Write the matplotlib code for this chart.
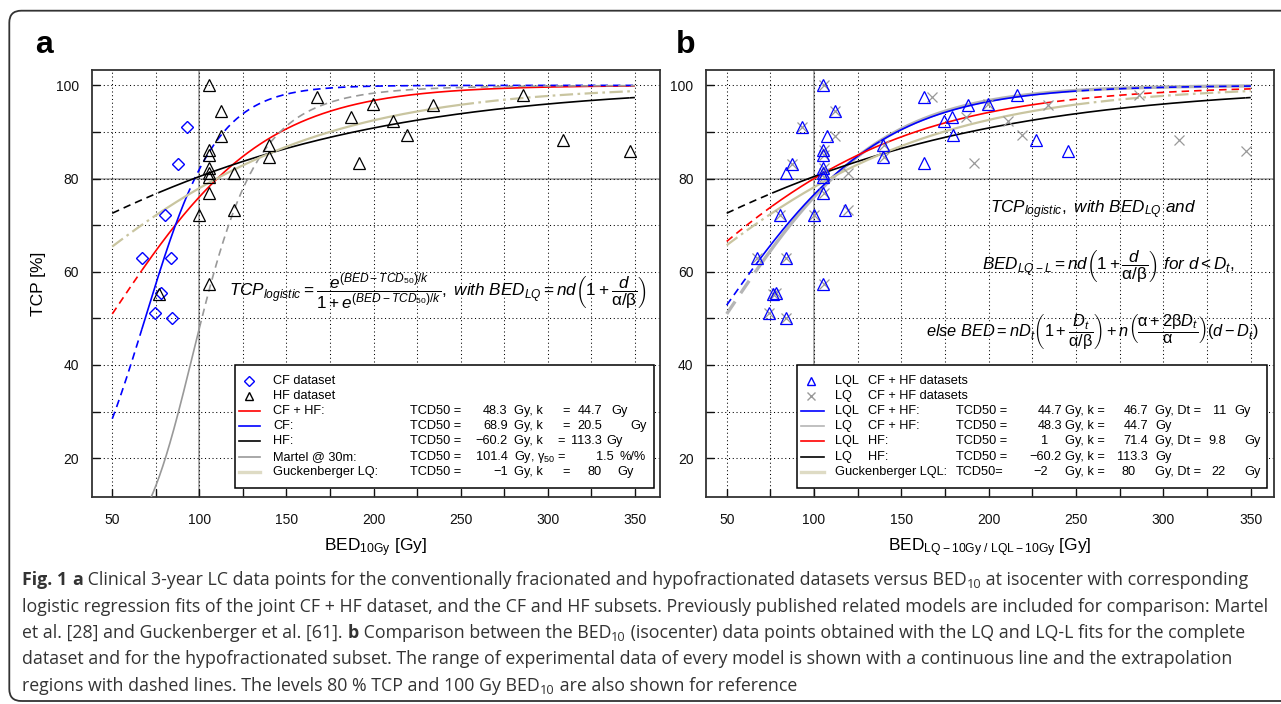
import numpy as np
import matplotlib
matplotlib.use("Agg")
import matplotlib.pyplot as plt
from matplotlib.patches import FancyBboxPatch, Rectangle
from matplotlib.lines import Line2D
from matplotlib.transforms import IdentityTransform
from matplotlib.font_manager import FontProperties

# ---------------- data ----------------
cf_bed = [93.0, 87.5, 80.3, 67.1, 83.8, 78.2, 74.5, 84.2]
cf_tcp = [91.0, 83.1, 72.1, 63.0, 63.0, 55.5, 51.1, 50.1]

hf_bed = [105.5, 112.2, 112.2, 105.5, 105.5, 105.5, 105.5, 105.5, 105.5, 100.0,
          119.6, 119.6, 105.5, 76.6, 140.2, 140.2, 167.8, 187.0, 199.8, 211.0,
          191.8, 219.0, 234.0, 286.0, 308.7, 347.0]
hf_tcp = [100.0, 94.6, 89.1, 86.2, 85.1, 82.2, 81.1, 80.3, 77.0, 72.2,
          81.1, 73.2, 57.3, 55.2, 87.1, 84.6, 97.6, 93.3, 96.1, 92.4,
          83.3, 89.3, 95.8, 97.9, 88.3, 86.0]
# LQ-L BED of the HF points (panel b)
hf_bed_lql = [105.2, 112.1, 107.4, 105.2, 105.2, 105.2, 105.2, 105.2, 105.2, 100.0,
              83.8, 118.0, 105.2, 76.6, 139.3, 139.3, 163.1, 179.0, 199.3, 174.3,
              163.1, 179.4, 188.3, 215.9, 226.9, 245.6]

# panel a fits: label, TCD50, k (or gamma50 for Martel), data range (solid)
fit_a_labels = ["CF + HF:", "CF:", "HF:", "Martel @ 30m:", "Guckenberger LQ:"]
fit_a_tcd50 = [48.3, 68.9, -60.2, 101.4, -1.0]
fit_a_k = [44.7, 20.5, 113.3, 1.5, 80.0]
fit_a_range = [(67, 347), (67, 93), (76.5, 347), (50, 100), (74, 250)]
fit_a_colors = ["#ff0000", "#0000ff", "#000000", "#999999", "#c9c5a0"]

# panel b fits
fit_b_labels = [("LQL", "CF + HF:"), ("LQ", "CF + HF:"), ("LQL", "HF:"),
                ("LQ", "HF:"), ("Guckenberger LQL:", "")]
fit_b_tcd50 = [44.7, 48.3, 1.0, -60.2, -2.0]
fit_b_k = [46.7, 44.7, 71.4, 113.3, 80.0]
fit_b_dt = ["11", "", "9.8", "", "22"]
fit_b_range = [(67, 246), (67, 347), (76, 232), (76, 347), (75, 250)]
fit_b_colors = ["#0000ff", "#b5b5b5", "#ff0000", "#000000", "#c9c5a0"]

x_ticks = [50, 100, 150, 200, 250, 300, 350]
y_ticks = [20, 40, 60, 80, 100]

# ---------------- style ----------------
W, H = 1281, 704
plt.rcParams["font.family"] = ["Liberation Sans", "DejaVu Sans"]
plt.rcParams["mathtext.fontset"] = "custom"
plt.rcParams["mathtext.rm"] = "Liberation Sans"
plt.rcParams["mathtext.it"] = "Liberation Sans:italic"
plt.rcParams["mathtext.bf"] = "Liberation Sans:bold"
plt.rcParams["mathtext.sf"] = "Liberation Sans"

fig = plt.figure(figsize=(W / 100, H / 100), dpi=100)


def fx(x):
    return x / W


def fy(y):
    return 1 - y / H


def logistic(bed, tcd50, k):
    z = np.exp((bed - tcd50) / k)
    return 100 * z / (1 + z)


def martel(bed, tcd50, g50):
    return 100 / (1 + (tcd50 / bed) ** (4 * g50))


DASH = (0, (4.5, 3.0))
DASHDOT = (0, (6, 2, 1.2, 2))


def draw_model(ax, fn, p1, p2, rng, color, lw, ext, z):
    lo, hi = rng
    xm = np.linspace(lo, hi, 400)
    ax.plot(xm, fn(xm, p1, p2), color=color, lw=lw, zorder=z, solid_capstyle="butt")
    for a, b in ((50, lo), (hi, 350)):
        if b - a > 0.5:
            xe = np.linspace(a, b, 200)
            ax.plot(xe, fn(xe, p1, p2), color=color, lw=lw, ls=ext, zorder=z)


def setup_axes(ax, xlim):
    ax.set_xlim(*xlim)
    ax.set_ylim(11.6, 103.3)
    ax.set_xticks(x_ticks)
    ax.set_xticks([t + 25 for t in x_ticks[:-1]], minor=True)
    ax.set_yticks(y_ticks)
    ax.set_yticks([t + 10 for t in y_ticks[:-1]], minor=True)
    ax.tick_params(which="both", direction="in", length=5.8, width=1.0,
                   top=False, right=False, labelsize=10, pad=9, colors="#111111")
    ax.tick_params(axis="x", pad=11)
    ax.grid(which="both", ls=(0, (1, 2.6)), color="black", lw=0.75)
    ax.axhline(80, color="#999999", lw=1.1, zorder=1.5)
    ax.axvline(100, color="#999999", lw=1.1, zorder=1.5)
    for s in ax.spines.values():
        s.set_color("#333333")
        s.set_linewidth(1.3)


ax_a = fig.add_axes([fx(91.7), fy(497.3), (660 - 91.7) / W, (497.3 - 70) / H])
ax_b = fig.add_axes([fx(706), fy(497.3), (1274 - 706) / W, (497.3 - 70) / H])
setup_axes(ax_a, (38.2, 364.4))
setup_axes(ax_b, (38.15, 363.3))

# ---------------- panel a ----------------
for i in range(5):
    fn = martel if i == 3 else logistic
    ext = DASHDOT if i == 4 else DASH
    lw = 1.6 if i == 4 else 1.2
    draw_model(ax_a, fn, fit_a_tcd50[i], fit_a_k[i], fit_a_range[i],
               fit_a_colors[i], lw, ext, 3)
ax_a.plot(cf_bed, cf_tcp, ls="none", marker="D", ms=6, mfc="none", mec="#0000ff",
          mew=1.0, zorder=5)
ax_a.plot(hf_bed, hf_tcp, ls="none", marker="^", ms=8, mfc="none", mec="black",
          mew=0.9, zorder=5)
ax_a.set_ylabel("TCP [%]", fontsize=12.5, labelpad=7)
ax_a.set_xlabel(r"BED$_{\mathrm{10Gy}}$ [Gy]", fontsize=12.5, labelpad=7)

# ---------------- panel b ----------------
ax_b.plot(cf_bed + hf_bed, cf_tcp + hf_tcp, ls="none", marker="x", ms=7,
          mec="#999999", mew=0.9, zorder=5)
ax_b.plot(cf_bed + hf_bed_lql, cf_tcp + hf_tcp, ls="none", marker="^", ms=8,
          mfc="none", mec="#0000ff", mew=0.9, zorder=6)
for i in range(5):
    ext = DASHDOT if i == 4 else DASH
    lw = {1: 2.4, 4: 1.6}.get(i, 1.2)
    z = 2.8 if i == 1 else 3
    draw_model(ax_b, logistic, fit_b_tcd50[i], fit_b_k[i], fit_b_range[i],
               fit_b_colors[i], lw, ext, z)
ax_b.set_xlabel(r"BED$_{\mathrm{LQ-10Gy\ /\ LQL-10Gy}}$ [Gy]", fontsize=12.5, labelpad=7)

# ---------------- panel letters ----------------
fig.text(fx(44), fy(45), "a", fontsize=23, fontweight="bold", ha="center", va="center")
fig.text(fx(686), fy(45), "b", fontsize=23, fontweight="bold", ha="center", va="center")

# ---------------- formulas ----------------
A = r"\mathrm{\alpha}"
B = r"\mathrm{\beta}"
fig.text(fx(438), fy(292),
         r"$TCP_{logistic} = \dfrac{e^{(BED-TCD_{50})/k}}{1+e^{(BED-TCD_{50})/k}},"
         r"\ with\ BED_{LQ} = nd\left(1+\dfrac{d}{" + A + "/" + B + r"}\right)$",
         fontsize=12.3, ha="center", va="center")
fig.text(fx(1093), fy(210), r"$TCP_{logistic},\ with\ BED_{LQ}\ and$",
         fontsize=12.3, ha="center", va="center")
fig.text(fx(1108), fy(267),
         r"$BED_{LQ-L} = nd\left(1+\dfrac{d}{" + A + "/" + B + r"}\right)\ for\ d<D_t,$",
         fontsize=12.3, ha="center", va="center")
fig.text(fx(1092), fy(332),
         r"$else\ BED = nD_t\left(1+\dfrac{D_t}{" + A + "/" + B + r"}\right)+n\left(\dfrac{"
         + A + "+2" + B + r"D_t}{" + A + r"}\right)\left(d-D_t\right)$",
         fontsize=11.8, ha="center", va="center")

# ---------------- legends ----------------
row_y = [380.7, 396, 410.7, 426, 441.3, 456.7, 472]
LFS = 9.2


def ltext(x, y, s, ha="left"):
    fig.text(fx(x), fy(y), s, fontsize=LFS, ha=ha, va="center", zorder=12)


def lline(x0, x1, y, color, lw=1.2):
    fig.add_artist(Line2D([fx(x0), fx(x1)], [fy(y), fy(y)], color=color, lw=lw, zorder=12))


def lmark(x, y, marker, color, ms):
    fig.add_artist(Line2D([fx(x)], [fy(y)], ls="none", marker=marker, ms=ms, mfc="none",
                          mec=color, mew=1.0, zorder=12))


fig.add_artist(Rectangle((fx(235), fy(488)), (654 - 235) / W, (488 - 365) / H,
                         transform=fig.transFigure, fc="white", ec="black", lw=1.1, zorder=11))
lmark(249, row_y[0], "D", "#0000ff", 5.2)
ltext(273, row_y[0], "CF dataset")
lmark(249, row_y[1], "^", "black", 5.5)
ltext(273, row_y[1], "HF dataset")
eq_x = [566, 566, 561, 0, 566]
unit_x = [611, 630, 606, 0, 617]
for i in range(5):
    y = row_y[i + 2]
    lline(238.6, 260.3, y, fit_a_colors[i] if i != 4 else "#dedbc4", 2.4 if i == 4 else 1.2)
    ltext(273, y, fit_a_labels[i])
    ltext(410, y, "TCD50 =")
    ltext(507.6, y, f"{fit_a_tcd50[i]:g}".replace("-", "\u2212"), ha="right")
    if i == 3:
        ltext(514, y, r"Gy, $\mathrm{\gamma}_{50}$ =")
        ltext(614, y, f"{fit_a_k[i]:g}", ha="right")
        ltext(620, y, "%/%")
    else:
        ltext(514, y, "Gy, k")
        ltext(eq_x[i], y, "=", ha="center")
        ltext(602, y, f"{fit_a_k[i]:g}", ha="right")
        ltext(unit_x[i], y, "Gy")

fig.add_artist(Rectangle((fx(797), fy(488)), (1266.5 - 797) / W, (488 - 365) / H,
                         transform=fig.transFigure, fc="white", ec="black", lw=1.1, zorder=11))
lmark(811.4, row_y[0], "^", "#0000ff", 5.5)
ltext(835, row_y[0], "LQL")
ltext(868, row_y[0], "CF + HF datasets")
lmark(811.4, row_y[1], "x", "#999999", 5.5)
ltext(835, row_y[1], "LQ")
ltext(868, row_y[1], "CF + HF datasets")
tcd_right = [1062, 1062, 1048, 1062, 1048]
k_right = [1148, 1148, 1148, 1148, 1136]
dtgy_x = [1234, 0, 1244, 0, 1244]
for i in range(5):
    y = row_y[i + 2]
    col = fit_b_colors[i] if i != 4 else "#dedbc4"
    lline(801, 824, y, col, 2.4 if i == 4 else 1.2)
    ltext(835, y, fit_b_labels[i][0])
    if fit_b_labels[i][1]:
        ltext(868, y, fit_b_labels[i][1])
    ltext(956, y, "TCD50=" if i == 4 else "TCD50 =")
    ltext(tcd_right[i], y, f"{fit_b_tcd50[i]:g}".replace("-", "\u2212"), ha="right")
    ltext(1065, y, "Gy, k =")
    ltext(k_right[i], y, f"{fit_b_k[i]:g}", ha="right")
    if fit_b_dt[i]:
        ltext(1155, y, "Gy, Dt =")
        ltext(1226, y, fit_b_dt[i], ha="right")
        ltext(dtgy_x[i], y, "Gy")
    else:
        ltext(1155, y, "Gy")

# ---------------- outer frame ----------------
fig.add_artist(FancyBboxPatch((9.3, 3), 1300, 690.3, boxstyle="round,pad=0,rounding_size=12",
                              transform=IdentityTransform(), fc="none", ec="#333333",
                              lw=1.3, zorder=20, clip_on=False))

# ---------------- caption ----------------
cap_lines = [
    [("Fig. 1", "b"), (" ", "r"), ("a", "b"),
     (" Clinical 3-year LC data points for the conventionally fracionated and hypofractionated datasets versus BED", "r"),
     ("10", "s"), (" at isocenter with corresponding", "r")],
    [("logistic regression fits of the joint CF + HF dataset, and the CF and HF subsets. Previously published related models are included for comparison: Martel", "r")],
    [("et al. [28] and Guckenberger et al. [61]. ", "r"), ("b", "b"), (" Comparison between the BED", "r"),
     ("10", "s"), (" (isocenter) data points obtained with the LQ and LQ-L fits for the complete", "r")],
    [("dataset and for the hypofractionated subset. The range of experimental data of every model is shown with a continuous line and the extrapolation", "r")],
    [("regions with dashed lines. The levels 80 % TCP and 100 Gy BED", "r"), ("10", "s"),
     (" are also shown for reference", "r")],
]
cap_y = [585, 611.5, 638, 664.5, 691]
CAPFONT = "Open Sans"
renderer = fig.canvas.get_renderer()


def run_width(s, size, weight):
    fp = FontProperties(family=CAPFONT, size=size, weight=weight)
    w1, _, _ = renderer.get_text_width_height_descent(s + "|", fp, ismath=False)
    w2, _, _ = renderer.get_text_width_height_descent("|", fp, ismath=False)
    return w1 - w2


def line_width(runs, size):
    tot = 0
    for s, st in runs:
        sz = size * 0.72 if st == "s" else size
        tot += run_width(s, sz, "bold" if st == "b" else "normal")
    return tot


ref = max(line_width(r, 12) for r in cap_lines)
cap_size = 12 * (1264 - 22.4) / ref

for runs, yb in zip(cap_lines, cap_y):
    x = 22.4
    for s, st in runs:
        sz = cap_size * 0.72 if st == "s" else cap_size
        wt = "bold" if st == "b" else "normal"
        yy = yb + (cap_size * 100 / 72) * 0.18 if st == "s" else yb
        fig.text(fx(x), fy(yy), s, fontsize=sz, fontweight=wt, family=CAPFONT,
                 color="#333333", ha="left", va="baseline")
        x += run_width(s, sz, wt)

fig.savefig("out.png", dpi=100)
